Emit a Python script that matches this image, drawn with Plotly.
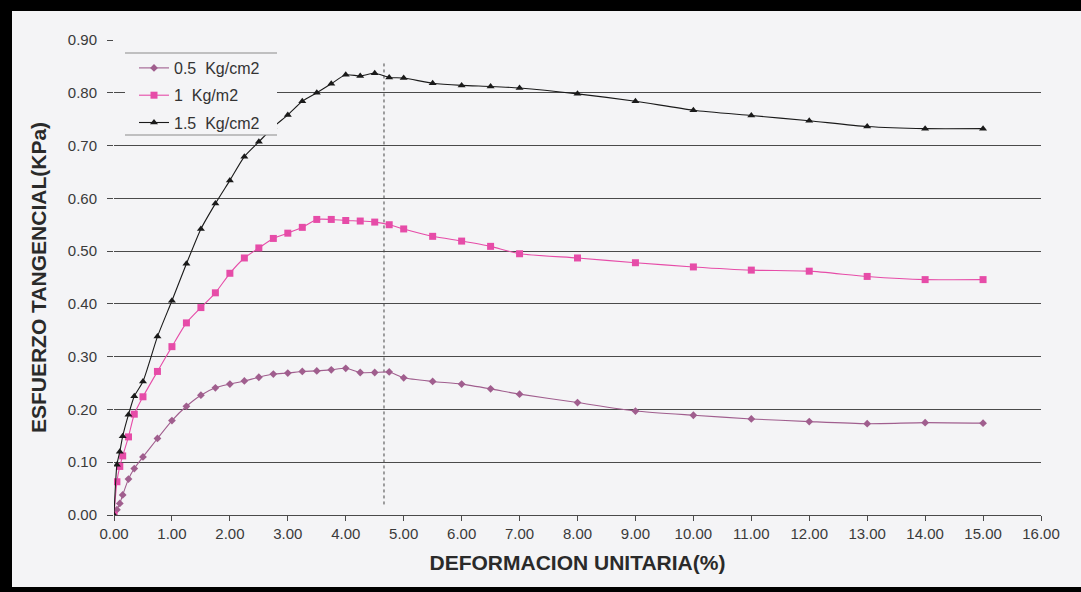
import plotly.graph_objects as go

# ---- data ----
deformacion = [0, 0.05, 0.10, 0.15, 0.25, 0.35, 0.50, 0.75, 1.00, 1.25, 1.50, 1.75,
               2.00, 2.25, 2.50, 2.75, 3.00, 3.25, 3.50, 3.75, 4.00, 4.25, 4.50, 4.75,
               5.00, 5.50, 6.00, 6.50, 7.00, 8.00, 9.00, 10.00, 11.00, 12.00, 13.00,
               14.00, 15.00]

esf_05 = [0, 0.010, 0.022, 0.038, 0.068, 0.088, 0.110, 0.145, 0.179, 0.206, 0.227, 0.241,
          0.248, 0.254, 0.261, 0.267, 0.269, 0.272, 0.273, 0.275, 0.278, 0.270, 0.270, 0.271,
          0.260, 0.253, 0.248, 0.239, 0.229, 0.213, 0.197, 0.189, 0.182, 0.177, 0.173,
          0.175, 0.174]

esf_10 = [0, 0.063, 0.092, 0.112, 0.148, 0.191, 0.224, 0.272, 0.319, 0.364, 0.393, 0.421,
          0.458, 0.487, 0.506, 0.524, 0.534, 0.545, 0.560, 0.560, 0.558, 0.557, 0.555, 0.550,
          0.542, 0.528, 0.519, 0.509, 0.495, 0.487, 0.478, 0.470, 0.464, 0.462, 0.452,
          0.446, 0.446]

esf_15 = [0, 0.095, 0.120, 0.149, 0.190, 0.225, 0.253, 0.338, 0.406, 0.476, 0.542, 0.590,
          0.634, 0.679, 0.707, 0.735, 0.758, 0.784, 0.800, 0.817, 0.834, 0.832, 0.837, 0.829,
          0.828, 0.818, 0.814, 0.812, 0.809, 0.798, 0.784, 0.767, 0.757, 0.747, 0.736,
          0.732, 0.732]

series_names = ["0.5  Kg/cm2", "1  Kg/m2", "1.5  Kg/cm2"]
x_ticks = list(range(0, 17))
y_ticks = [0.0, 0.1, 0.2, 0.3, 0.4, 0.5, 0.6, 0.7, 0.8, 0.9]
ref_line_x = 4.66
ref_line_y = [0.02, 0.86]

# ---- style ----
BG = "#f4f4f6"
GRID = "#4a4a4a"
FONT = "Liberation Sans, Arial, sans-serif"
W, H = 1081, 592
ML, MR, MT, MB = 114, 40, 40, 77
PW, PH = W - ML - MR, H - MT - MB


def px_x(p):
    return (p - ML) / PW


def px_y(p):
    return 1 - (p - MT) / PH


fig = go.Figure()

styles = [
    dict(color="#a05e8e", symbol="diamond", size=6),
    dict(color="#e64ca8", symbol="square", size=7),
    dict(color="#1a1a1a", symbol="triangle-up", size=7),
]
for name, ys, st, grp in zip(series_names, [esf_05, esf_10, esf_15], styles, ["a", "b", "c"]):
    fig.add_trace(go.Scatter(
        x=deformacion, y=ys, name=name, mode="lines+markers", legendgroup=grp,
        line=dict(color=st["color"], width=1.1, shape="spline", smoothing=0.6),
        marker=dict(color=st["color"], symbol=st["symbol"], size=st["size"],
                    line=dict(width=0)),
    ))

shapes = []
# vertical dotted reference line
shapes.append(dict(type="line", xref="x", yref="y", x0=ref_line_x, x1=ref_line_x,
                   y0=ref_line_y[0], y1=ref_line_y[1],
                   line=dict(color="#444444", width=1, dash="dot"), layer="below"))
# legend background box with top / bottom rules
shapes.append(dict(type="rect", xref="paper", yref="paper",
                   x0=px_x(125), x1=px_x(277), y0=px_y(135), y1=px_y(53),
                   fillcolor=BG, line=dict(width=0), layer="above"))
for py in (53, 135):
    shapes.append(dict(type="line", xref="paper", yref="paper",
                       x0=px_x(125), x1=px_x(277), y0=px_y(py), y1=px_y(py),
                       line=dict(color="#8a8a8a", width=1), layer="above"))
# scanned black frame (left, top, bottom)
shapes.append(dict(type="rect", xref="paper", yref="paper", x0=px_x(0), x1=px_x(12),
                   y0=px_y(H), y1=px_y(0), fillcolor="black", line=dict(width=0)))
shapes.append(dict(type="rect", xref="paper", yref="paper", x0=px_x(0), x1=px_x(W),
                   y0=px_y(11), y1=px_y(0), fillcolor="black", line=dict(width=0)))
shapes.append(dict(type="rect", xref="paper", yref="paper", x0=px_x(0), x1=px_x(W),
                   y0=px_y(H), y1=px_y(587), fillcolor="black", line=dict(width=0)))

fig.update_layout(
    width=W, height=H,
    margin=dict(l=ML, r=MR, t=MT, b=MB, pad=0),
    paper_bgcolor=BG, plot_bgcolor=BG,
    font=dict(family=FONT, color="#333333", size=15),
    showlegend=True,
    legend=dict(x=px_x(134), y=px_y(51), xanchor="left", yanchor="top",
                bgcolor="rgba(0,0,0,0)", borderwidth=0,
                font=dict(size=16, color="#333333"),
                tracegroupgap=3.5, itemwidth=30),
    shapes=shapes,
)

fig.update_xaxes(
    range=[0, 16], tickvals=x_ticks, tickformat=".2f",
    showgrid=False, zeroline=False,
    showline=True, linecolor=GRID, linewidth=1.3,
    ticks="outside", ticklen=5, tickcolor=GRID, tickwidth=1,
    tickfont=dict(size=15, color="#3a3a3a"),
    title=dict(text="DEFORMACION UNITARIA(%)", standoff=14,
               font=dict(size=21, color="#2a2a2a", weight="bold")),
)
fig.update_yaxes(
    range=[0, 0.9], tickvals=y_ticks, tickformat=".2f",
    showgrid=True, gridcolor=GRID, gridwidth=1.3, zeroline=False,
    showline=False,
    ticks="outside", ticklen=6, tickcolor=GRID, tickwidth=1,
    ticklabelstandoff=7,
    tickfont=dict(size=15, color="#3a3a3a"),
    title=dict(text="ESFUERZO TANGENCIAL(KPa)", standoff=15,
               font=dict(size=21, color="#2a2a2a", weight="bold")),
)

fig.write_html("out.html")
